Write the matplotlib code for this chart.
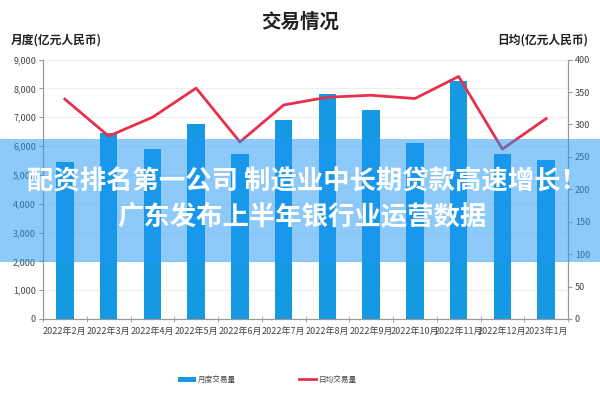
import matplotlib
matplotlib.use("Agg")
import matplotlib.pyplot as plt
from matplotlib.patches import Rectangle
import numpy as np

plt.rcParams['font.family'] = ['Noto Sans CJK SC', 'DejaVu Sans']

months = ['2022年2月', '2022年3月', '2022年4月', '2022年5月', '2022年6月', '2022年7月',
          '2022年8月', '2022年9月', '2022年10月', '2022年11月', '2022年12月', '2023年1月']
monthly_volume = [5430, 6470, 5890, 6760, 5720, 6910, 7820, 7250, 6090, 8250, 5740, 5530]
daily_avg = [339, 282, 311, 356, 273, 330, 342, 345, 340, 374, 262, 309]
left_ticks = [0, 1000, 2000, 3000, 4000, 5000, 6000, 7000, 8000, 9000]
right_ticks = [0, 50, 100, 150, 200, 250, 300, 350, 400]

bar_color = '#1499e2'
line_color = '#e8304c'
tick_color = '#444444'
spine_color = '#999999'

fig = plt.figure(figsize=(6, 4), dpi=100)
ax = fig.add_axes([0.0717, 0.2025, 0.875, 0.6485])
ax2 = ax.twinx()

x = np.arange(len(months))
ax.bar(x, monthly_volume, width=0.4, color=bar_color, zorder=2, label='月度交易量')
ax2.plot(x, daily_avg, color=line_color, lw=2, zorder=3, label='日均交易量')

ax.set_xlim(-0.5, len(months) - 0.5)
ax.set_ylim(0, 9000)
ax2.set_ylim(0, 400)
ax.set_yticks(left_ticks)
ax.set_yticklabels([f'{v:,}' for v in left_ticks], fontsize=6.5, color=tick_color)
ax2.set_yticks(right_ticks)
ax2.set_yticklabels([str(v) for v in right_ticks], fontsize=6.5, color=tick_color)
ax.set_xticks(x)
ax.set_xticklabels(months, fontsize=6.5, color=tick_color)
ax.tick_params(axis='x', length=0, pad=6)
ax.set_xticks(np.arange(-0.5, len(months), 1), minor=True)
ax.tick_params(axis='x', which='minor', length=4, color=spine_color, direction='inout')
ax.tick_params(axis='y', length=3, color=spine_color, pad=2)
ax2.tick_params(axis='y', length=3, color=spine_color, pad=2)

ax.grid(axis='y', color='#eeeeee', lw=0.8, zorder=0)
ax.set_axisbelow(True)
for a in (ax, ax2):
    a.spines['top'].set_visible(False)
    for s in ('left', 'right', 'bottom'):
        a.spines[s].set_color(spine_color)
        a.spines[s].set_linewidth(0.8)

fig.text(0.5, 0.945, '交易情况', ha='center', va='center', fontsize=14, fontweight='bold', color='#222222')
fig.text(0.018, 0.9, '月度(亿元人民币)', ha='left', va='center', fontsize=8.5, fontweight='bold', color='#222222')
fig.text(0.98, 0.9, '日均(亿元人民币)', ha='right', va='center', fontsize=8.5, fontweight='bold', color='#222222')

h1, l1 = ax.get_legend_handles_labels()
h2, l2 = ax2.get_legend_handles_labels()
fig.legend(h1 + h2, l1 + l2, loc='center', bbox_to_anchor=(0.446, 0.05), ncol=2, frameon=False,
           fontsize=5.5, handlelength=2.3, handleheight=0.55, columnspacing=8.2, handletextpad=0.3,
           labelcolor='#444444')

band = Rectangle((0, 0.345), 1, 0.3075, transform=fig.transFigure, facecolor='#1e96f5',
                 alpha=0.5, edgecolor='none', zorder=10)
fig.add_artist(band)
fig.text(0.512, 0.545, '配资排名第一公司 制造业中长期贷款高速增长！', ha='center', va='center',
         fontsize=19, fontweight='bold', color='white', zorder=11)
fig.text(0.503, 0.455, '广东发布上半年银行业运营数据', ha='center', va='center',
         fontsize=19, fontweight='bold', color='white', zorder=11)

fig.savefig('out.png', dpi=100)
